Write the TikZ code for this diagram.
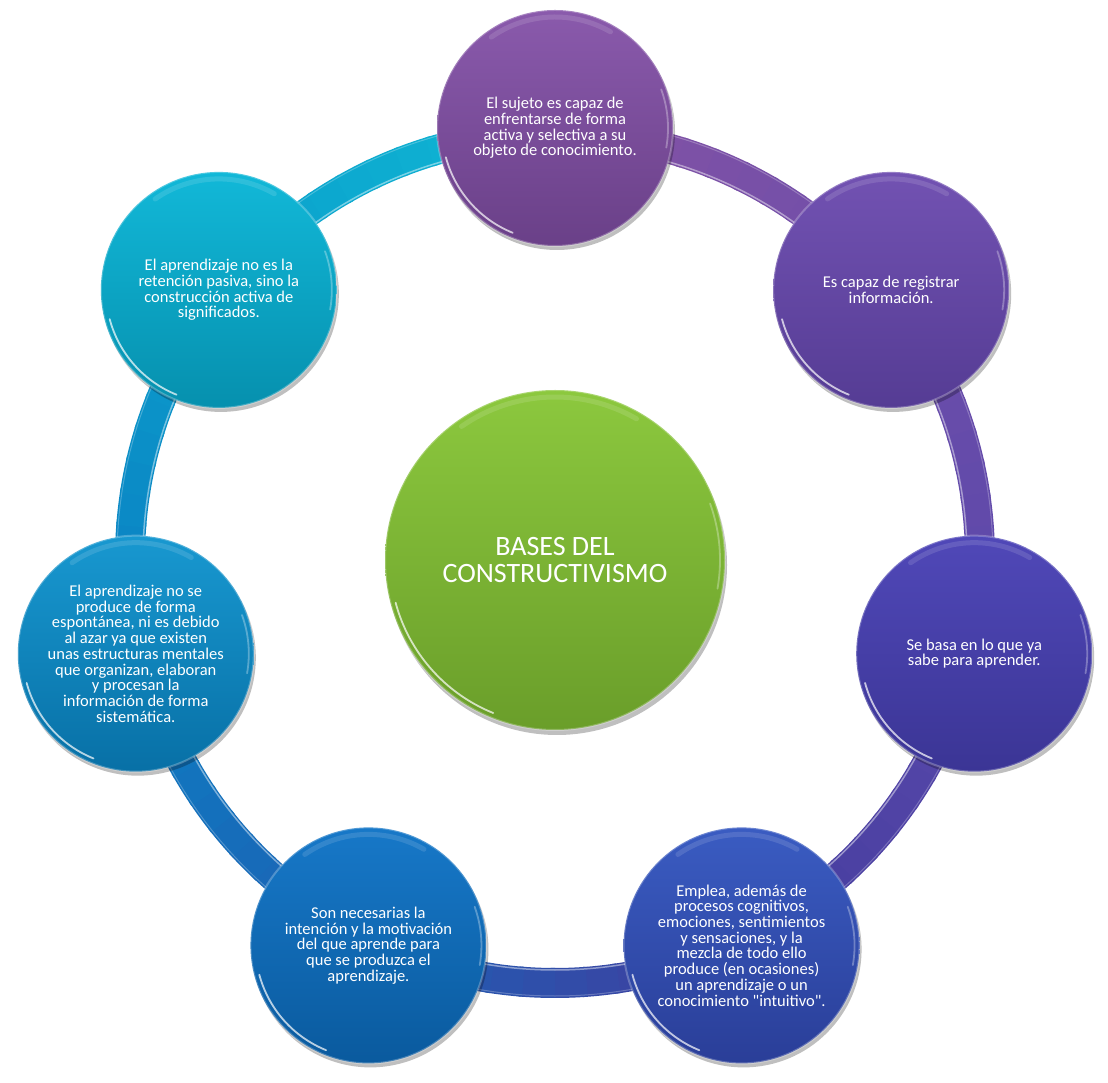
\documentclass[tikz,border=0pt]{standalone}
\usepackage{fontspec}
\setmainfont{Carlito}[Ligatures=TeXOff]
\usetikzlibrary{shadows}
% circle fills
\definecolor{c0a}{HTML}{8A5AAC}\definecolor{c0b}{HTML}{6A4088}
\definecolor{c1a}{HTML}{7252B2}\definecolor{c1b}{HTML}{553C94}
\definecolor{c2a}{HTML}{5048B8}\definecolor{c2b}{HTML}{3B3595}
\definecolor{c3a}{HTML}{3A5CC2}\definecolor{c3b}{HTML}{2A3E98}
\definecolor{c4a}{HTML}{1778C8}\definecolor{c4b}{HTML}{0A5A9E}
\definecolor{c5a}{HTML}{1898D0}\definecolor{c5b}{HTML}{0870A6}
\definecolor{c6a}{HTML}{12B8D8}\definecolor{c6b}{HTML}{0690AE}
\definecolor{cma}{HTML}{8CC83E}\definecolor{cmb}{HTML}{6A9E2A}
% ring key colours, clockwise from the top
\definecolor{ringA}{HTML}{8452A4}
\definecolor{ringB}{HTML}{6E4EAA}
\definecolor{ringC}{HTML}{5A48AA}
\definecolor{ringD}{HTML}{433C9E}
\definecolor{ringE}{HTML}{1E60B4}
\definecolor{ringF}{HTML}{0C7EC2}
\definecolor{ringG}{HTML}{0A9ECC}
\definecolor{ringH}{HTML}{10B8D4}
\begin{document}
\begin{tikzpicture}[x=1pt,y=1pt,
  sat/.style={circle, minimum size=236pt, inner sep=0pt, align=center,
    text=white, font=\fontsize{16.5}{15.7}\selectfont,
    draw=white, draw opacity=0.25, line width=2pt,
    drop shadow={shadow xshift=2pt, shadow yshift=-4pt, opacity=0.25, fill=black}},
  hub/.style={circle, minimum size=340pt, inner sep=0pt, align=center,
    text=white, font=\fontsize{28}{27}\selectfont,
    draw=white, draw opacity=0.25, line width=2pt,
    drop shadow={shadow xshift=2pt, shadow yshift=-5pt, opacity=0.25, fill=black}},
  shine/.style={white, line width=1.8pt, opacity=0.7, line cap=round},
  glow/.style={white, line width=5pt, opacity=0.12, line cap=round}]
\fill[white] (0,0) rectangle (1108,1082);
\useasboundingbox (0,0) rectangle (1108,1082);
\coordinate (C) at (555,524);
% ring
\foreach \k/\ca/\cb in {0/ringA/ringB,1/ringB/ringC,2/ringC/ringD,3/ringD/ringE,4/ringE/ringF,5/ringF/ringG,6/ringG/ringH}{
  \foreach \j in {0,...,11}{
    \pgfmathsetmacro\s{90-\k*51.428571-\j*4.285714}
    \pgfmathsetmacro\e{\s-4.285714-0.6}
    \pgfmathtruncatemacro\p{(\j+0.5)/12*100}
    \draw[line width=30pt, draw=\cb!\p!\ca] (C) ++(\s:425) arc[start angle=\s, end angle=\e, radius=425];
  }
}
\draw[white, opacity=0.45, line width=1.5pt] (C) circle[radius=412];
\draw[white, opacity=0.25, line width=1pt] (C) circle[radius=438];
% centre
\node[hub, top color=cma, bottom color=cmb] (m) at (555,522) {BASES DEL\\CONSTRUCTIVISMO};
% satellites
\node[sat, top color=c0a, bottom color=c0b] (s0) at ([shift={(90:430)}]C)
  {El sujeto es capaz de\\enfrentarse de forma\\activa y selectiva a su\\objeto de conocimiento.};
\node[sat, top color=c1a, bottom color=c1b] (s1) at ([shift={(38.571:430)}]C)
  {Es capaz de registrar\\información.};
\node[sat, top color=c2a, bottom color=c2b] (s2) at ([shift={(-12.857:430)}]C)
  {Se basa en lo que ya\\sabe para aprender.};
\node[sat, top color=c3a, bottom color=c3b] (s3) at ([shift={(-64.286:430)}]C)
  {Emplea, además de\\procesos cognitivos,\\emociones, sentimientos\\y sensaciones, y la\\mezcla de todo ello\\produce (en ocasiones)\\un aprendizaje o un\\conocimiento "intuitivo".};
\node[sat, top color=c4a, bottom color=c4b] (s4) at ([shift={(-115.714:430)}]C)
  {Son necesarias la\\intención y la motivación\\del que aprende para\\que se produzca el\\aprendizaje.};
\node[sat, top color=c5a, bottom color=c5b] (s5) at ([shift={(-167.143:430)}]C)
  {El aprendizaje no se\\produce de forma\\espontánea, ni es debido\\al azar ya que existen\\unas estructuras mentales\\que organizan, elaboran\\y procesan la\\información de forma\\sistemática.};
\node[sat, top color=c6a, bottom color=c6b] (s6) at ([shift={(141.429:430)}]C)
  {El aprendizaje no es la\\retención pasiva, sino la\\construcción activa de\\significados.};
% glossy rims
\foreach \n in {s0,s1,s2,s3,s4,s5,s6}{
  \draw[shine] (\n.center) ++(195:113) arc[start angle=195, end angle=248, radius=113];
  \draw[glow] (\n.center) ++(60:111) arc[start angle=60, end angle=125, radius=111];
  \draw[shine, opacity=0.3] (\n.center) ++(-10:113) arc[start angle=-10, end angle=20, radius=113];
}
\draw[shine] (m.center) ++(195:165) arc[start angle=195, end angle=248, radius=165];
\draw[glow] (m.center) ++(60:163) arc[start angle=60, end angle=125, radius=163];
\draw[shine, opacity=0.3] (m.center) ++(-10:165) arc[start angle=-10, end angle=20, radius=165];
\end{tikzpicture}
\end{document}
